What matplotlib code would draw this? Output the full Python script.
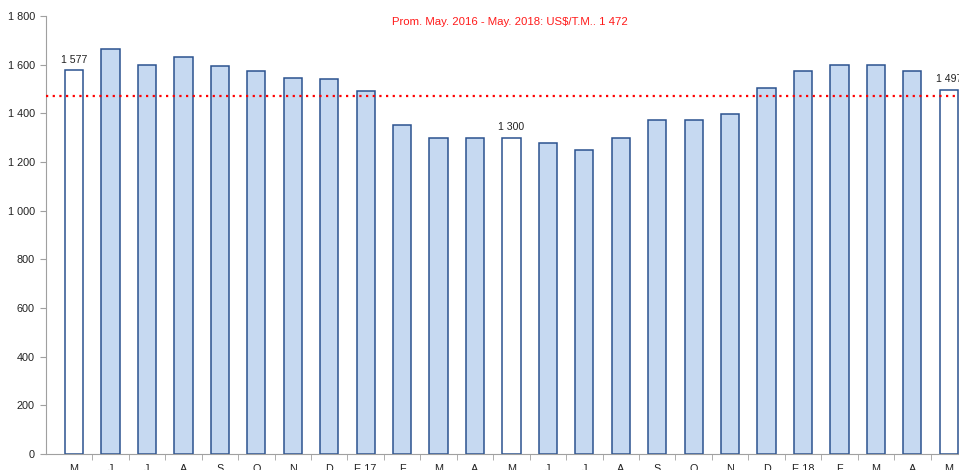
import numpy as np
import matplotlib.pyplot as plt
from matplotlib.ticker import FuncFormatter, FixedLocator

# miesiace maj 2016 - maj 2018
miesiace = ['M', 'J', 'J', 'A', 'S', 'O', 'N', 'D', 'E 17', 'F', 'M', 'A', 'M',
            'J', 'J', 'A', 'S', 'O', 'N', 'D', 'E 18', 'F', 'M', 'A', 'M']
ceny = [1577, 1665, 1600, 1632, 1595, 1574, 1545, 1541, 1492, 1352, 1300, 1300, 1300,
        1278, 1250, 1300, 1373, 1373, 1397, 1504, 1574, 1599, 1600, 1574, 1497]
srednia = 1472
tytul = 'Prom. May. 2016 - May. 2018: US$/T.M.. 1 472'
wyroznione = [0, 12, 24]  # slupki bez wypelnienia, z etykieta

plt.rcParams['font.family'] = ['Liberation Sans', 'DejaVu Sans']

fig = plt.figure(figsize=(9.59, 4.7), dpi=100)
ax = fig.add_axes([46 / 959, 16 / 470, 1 - 46 / 959, 438 / 470])

x = np.arange(len(ceny))
kolory = ['white' if i in wyroznione else '#C6D9F1' for i in x]
ax.bar(x, ceny, width=0.5, color=kolory, edgecolor='#2B528F', linewidth=1.1, zorder=2)

for i in wyroznione:
    ax.text(x[i], ceny[i] + 22, f'{ceny[i]:,}'.replace(',', ' '), ha='center', va='bottom',
            fontsize=7.6, color='#222222', zorder=4)

ax.axhline(srednia, color='#FF0000', linestyle=(0, (1, 2)), linewidth=1.6, zorder=3)
ax.text(0.508, 1.0 - 6 / 438, tytul, transform=ax.transAxes, ha='center', va='center',
        fontsize=8.2, color='#FF1A1A')

ax.set_ylim(0, 1800)
ax.set_xlim(-0.77, 24.28)
ax.set_yticks(range(0, 1801, 200))
ax.yaxis.set_major_formatter(FuncFormatter(lambda v, p: f'{int(v):,}'.replace(',', ' ')))
ax.set_xticks(x)
ax.set_xticklabels(miesiace)
ax.xaxis.set_minor_locator(FixedLocator(x[:-1] + 0.5))
ax.tick_params(axis='x', which='major', length=0, pad=7, labelsize=7.8, labelcolor='#222222')
ax.tick_params(axis='x', which='minor', length=4, color='#A0A0A0')
ax.tick_params(axis='y', length=4, color='#A0A0A0', labelsize=7.8, labelcolor='#222222', pad=4)

for s in ['top', 'right']:
    ax.spines[s].set_visible(False)
for s in ['left', 'bottom']:
    ax.spines[s].set_color('#A0A0A0')

plt.savefig('out.png', dpi=100)
